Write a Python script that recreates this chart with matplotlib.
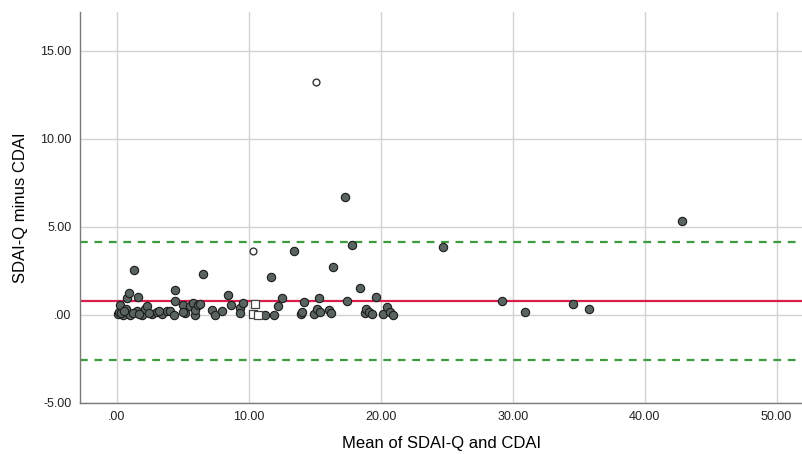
import matplotlib
matplotlib.use("Agg")
import matplotlib.pyplot as plt

plt.rcParams['font.family'] = ['Liberation Sans', 'DejaVu Sans']

# --- data: mean (x) and difference (y) ---
mean_x = [0.06, 0.12, 0.25, 0.43, 0.68, 0.80, 0.95, 1.00, 1.26, 1.50, 1.60, 1.90,
          2.15, 2.28, 2.65, 3.03, 3.40, 3.78, 4.04, 4.29, 4.37, 4.37, 4.97, 5.18,
          5.55, 5.80, 5.88, 5.90, 6.13, 6.30, 6.50, 7.20, 7.40, 7.96, 8.45, 8.66,
          9.30, 9.30, 9.55, 0.30, 1.20, 2.40, 3.20, 5.00, 0.55, 1.70,
          11.2, 11.7, 11.9, 12.2, 12.5, 13.4, 13.95, 14.05, 14.2, 14.96, 15.2,
          15.3, 15.4, 16.1, 16.2, 16.4, 17.3, 17.4, 17.8, 18.4, 18.8, 18.9, 19.1,
          19.3, 19.6, 20.15, 20.45, 20.7, 20.95, 24.7, 29.15, 30.9, 34.6, 35.8,
          42.8]
diff_y = [0.03, 0.17, 0.55, 0.00, 0.32, 0.94, 1.23, 0.00, 2.52, 0.19, 1.00, 0.00,
          0.33, 0.47, 0.03, 0.14, 0.03, 0.21, 0.19, 0.00, 1.42, 0.76, 0.55, 0.08,
          0.47, 0.66, 0.00, 0.27, 0.55, 0.60, 2.31, 0.27, 0.00, 0.23, 1.10, 0.55,
          0.37, 0.08, 0.65, 0.10, 0.10, 0.10, 0.20, 0.15, 0.20, 0.05,
          0.00, 2.12, 0.00, 0.47, 0.93, 3.60, 0.03, 0.14, 0.70, 0.03, 0.32,
          0.94, 0.14, 0.27, 0.08, 2.70, 6.70, 0.79, 3.98, 1.52, 0.08, 0.32, 0.14,
          0.02, 0.98, 0.04, 0.45, 0.17, 0.00, 3.87, 0.76, 0.13, 0.59, 0.31,
          5.30]

open_circle_x = [15.06, 10.34]
open_circle_y = [13.2, 3.6]

open_square_x = [10.5, 10.3, 10.7]
open_square_y = [0.6, 0.02, 0.0]

mean_diff = 0.78
upper_loa = 4.11
lower_loa = -2.55

# --- plot ---
fig = plt.figure(figsize=(8.03, 4.54), dpi=100)
ax = fig.add_axes([80 / 803, (454 - 402.7) / 454, 1 - 80 / 803, (402.7 - 12.3) / 454])

ax.set_xlim(-2.8, 52.0)
ax.set_ylim(-5.0, 17.18)
ax.set_xticks([0, 10, 20, 30, 40, 50])
ax.set_xticklabels(['.00', '10.00', '20.00', '30.00', '40.00', '50.00'])
ax.set_yticks([-5, 0, 5, 10, 15])
ax.set_yticklabels(['-5.00', '.00', '5.00', '10.00', '15.00'])
ax.tick_params(length=0, labelsize=9, colors='#222222', pad=6)

ax.grid(True, color='#d2d2d2', linewidth=1.0)
ax.set_axisbelow(True)
for side in ['top', 'right']:
    ax.spines[side].set_visible(False)
for side in ['left', 'bottom']:
    ax.spines[side].set_color('#7a7a7a')
    ax.spines[side].set_linewidth(1.0)

ax.axhline(mean_diff, color='#d81e4c', linewidth=1.6, zorder=2)
ax.axhline(upper_loa, color='#3f9b3f', linewidth=1.6, linestyle=(0, (3.5, 3)), zorder=2)
ax.axhline(lower_loa, color='#3f9b3f', linewidth=1.6, linestyle=(0, (3.5, 3)), zorder=2)

ax.scatter(mean_x, diff_y, s=36, facecolor='#59635f', edgecolor='#1c1c1c',
           linewidth=0.8, zorder=3)
ax.scatter(open_circle_x, open_circle_y, s=24, facecolor='white', edgecolor='#333333',
           linewidth=1.0, zorder=3)
ax.scatter(open_square_x, open_square_y, s=36, marker='s', facecolor='white',
           edgecolor='#444444', linewidth=0.9, zorder=3)

ax.set_xlabel('Mean of SDAI-Q and CDAI', fontsize=12, labelpad=9)
ax.set_ylabel('SDAI-Q minus CDAI', fontsize=12, labelpad=9)

fig.savefig('out.png', dpi=100)
